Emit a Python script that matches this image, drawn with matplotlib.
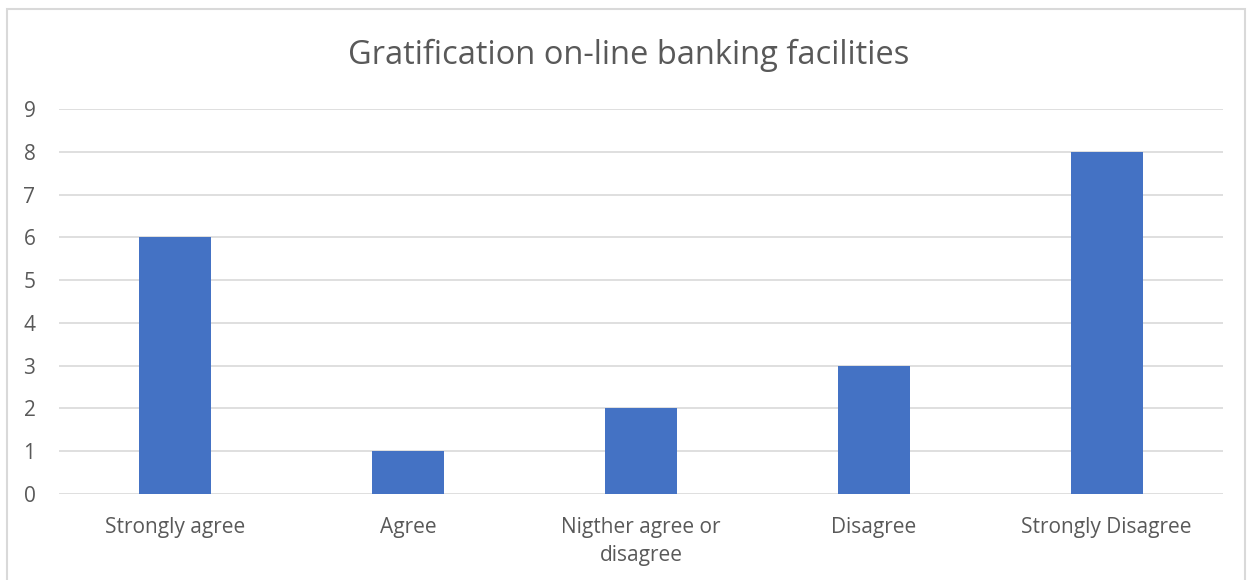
import matplotlib
matplotlib.use("Agg")
import matplotlib.pyplot as plt
from matplotlib.patches import Rectangle

categories = ["Strongly agree", "Agree", "Nigther agree or\ndisagree", "Disagree", "Strongly Disagree"]
values = [6, 1, 2, 3, 8]
yticks = [0, 1, 2, 3, 4, 5, 6, 7, 8, 9]

plt.rcParams['font.family'] = ['Open Sans', 'DejaVu Sans']

fig = plt.figure(figsize=(12.5, 5.8), dpi=100)
fig.patches.append(Rectangle((7/1250, -0.05), 1238/1250, 1 - 9/580 + 0.05, transform=fig.transFigure,
                             fill=False, edgecolor='#d9d9d9', linewidth=1.5))
ax = fig.add_axes([59/1250, 1 - 494/580, 1164/1250, 385/580])
x = list(range(len(categories)))
ax.bar(x, values, width=0.31, color='#4472c4', zorder=3)
ax.set_xlim(-0.5, len(categories) - 0.5)
ax.set_ylim(0, 9)
ax.set_yticks(yticks)
ax.set_yticklabels([str(t) for t in yticks])
ax.set_xticks(x)
ax.set_xticklabels(categories, linespacing=1.45)
ax.grid(axis='y', color='#d9d9d9', linewidth=1.2, zorder=0)
for s in ax.spines.values():
    s.set_visible(False)
ax.tick_params(axis='both', length=0, labelsize=15, colors='#595959')
ax.tick_params(axis='y', pad=17)
ax.tick_params(axis='x', pad=16.5)
fig.text(629/1250, 1 - 55.5/580, "Gratification on-line banking facilities", ha='center', va='center',
         fontsize=23.5, color='#595959')
fig.savefig("out.png", dpi=100)
